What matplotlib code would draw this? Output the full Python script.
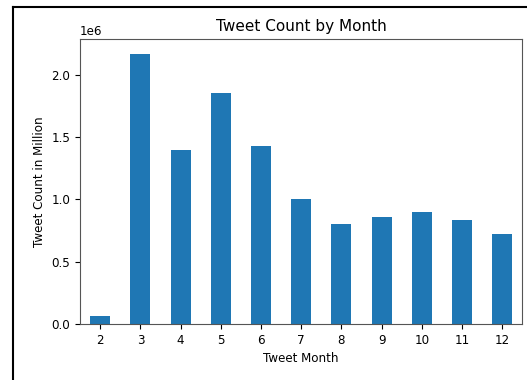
import matplotlib.pyplot as plt
from matplotlib.lines import Line2D

# monthly tweet totals
months = [2, 3, 4, 5, 6, 7, 8, 9, 10, 11, 12]
tweet_counts = [67000, 2167000, 1396000, 1856000, 1431000, 1000000,
                800000, 861000, 899000, 835000, 720000]

plt.rcParams['font.size'] = 8.6

fig = plt.figure(figsize=(5.27, 3.80), dpi=100)
ax = fig.add_axes([0.152, 0.147, 0.839, 0.750])

positions = range(len(months))
ax.bar(positions, tweet_counts, width=0.5, color='#1f77b4')
ax.set_xticks(list(positions))
ax.set_xticklabels([str(m) for m in months], rotation=0)
ax.set_xlim(-0.5, len(months) - 0.5)
ax.set_ylim(0, max(tweet_counts) * 1.055)
ax.ticklabel_format(axis='y', style='sci', scilimits=(0, 0))

ax.set_title('Tweet Count by Month', fontsize=11)
ax.set_xlabel('Tweet Month', fontsize=8.6)
ax.set_ylabel('Tweet Count in Million', fontsize=8.6)

for spine in ax.spines.values():
    spine.set_color('#555555')

# border around the output
fig.add_artist(Line2D([13 / 527, 1.0], [1 - 7 / 380, 1 - 7 / 380],
                      transform=fig.transFigure, color='black', linewidth=1.5))
fig.add_artist(Line2D([13 / 527, 13 / 527], [0, 1 - 7 / 380],
                      transform=fig.transFigure, color='black', linewidth=1.5))

fig.savefig('out.png', dpi=100)
